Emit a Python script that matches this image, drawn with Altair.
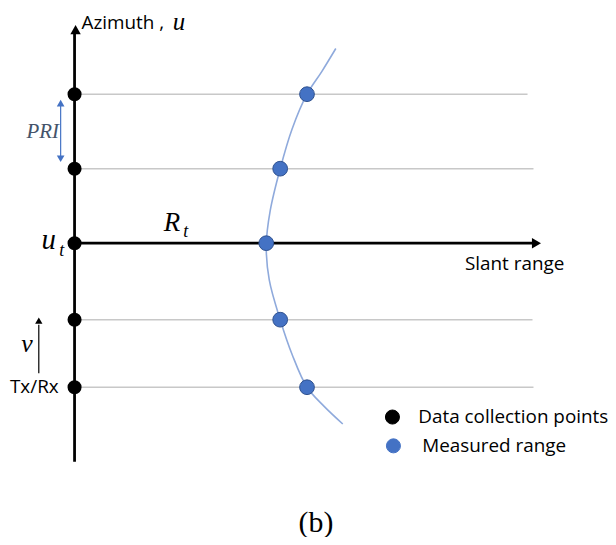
import altair as alt
import pandas as pd

# ---- values (image pixel space: x to the right, y downward) ----
pulse_y = [93, 168, 243, 320, 388]            # azimuth positions of the data collection points
platform_x = [75, 75, 75, 75, 75]              # Tx/Rx track (azimuth axis)
measured_x = [309, 282, 268, 282, 309]         # measured slant range of the target at each pulse
gridline_end_x = [531, 537, 540, 536, 537]     # right end of each range line

curve_x = [338, 324, 309, 294, 282, 272, 268, 271, 282, 294, 309, 326, 345]
curve_y = [47, 70, 93, 128, 168, 210, 245, 280, 320, 355, 388, 407, 425]

legend_labels = ["Data collection points", "Measured range"]
legend_colors = ["#000000", "#4472C4"]
legend_y = [418, 447]

xs = alt.Scale(domain=[8, 612], nice=False, zero=False)
ys = alt.Scale(domain=[537, 8], nice=False, zero=False)


def X(f="x"):
    return alt.X(f"{f}:Q", scale=xs, axis=None)


def Y(f="y"):
    return alt.Y(f"{f}:Q", scale=ys, axis=None)


# range lines (gray) for each pulse except the u_t line
grid = pd.DataFrame({"x": platform_x, "x2": gridline_end_x, "y": pulse_y})
grid_lines = alt.Chart(grid[grid["y"] != 243]).mark_rule(color="#C8C8C8", strokeWidth=1.6).encode(
    x=X(), x2="x2:Q", y=Y()
)

# main axes
axes = pd.DataFrame({
    "x": [75, 75], "x2": [75, 538], "y": [463, 243], "y2": [32, 243]
})
axis_lines = alt.Chart(axes).mark_rule(color="#000000", strokeWidth=2.8).encode(
    x=X(), x2="x2:Q", y=Y(), y2="y2:Q"
)

heads = pd.DataFrame({"x": [76, 540], "y": [28, 243], "shape": ["triangle-up", "triangle-right"]})
arrow_heads = alt.Chart(heads).mark_point(filled=True, color="#000000", size=110, opacity=1).encode(
    x=X(), y=Y(), shape=alt.Shape("shape:N", scale=None)
)

# hyperbolic range curve
curve = pd.DataFrame({"x": curve_x, "y": curve_y, "i": list(range(len(curve_x)))})
curve_line = alt.Chart(curve).mark_line(color="#8FAADC", strokeWidth=1.6, interpolate="catmull-rom").encode(
    x=X(), y=Y(), order="i:Q"
)

# data collection points
pts = pd.DataFrame({"x": platform_x, "y": pulse_y})
black_pts = alt.Chart(pts).mark_point(filled=True, color="#000000", size=200, opacity=1).encode(
    x=X(), y=Y()
)

meas = pd.DataFrame({"x": measured_x, "y": pulse_y})
blue_pts = alt.Chart(meas).mark_point(
    filled=True, fill="#4472C4", stroke="#2F528F", strokeWidth=1, size=220, opacity=1
).encode(x=X(), y=Y())

# PRI double arrow
pri = pd.DataFrame({"x": [61], "y": [104], "y2": [156]})
pri_line = alt.Chart(pri).mark_rule(color="#4472C4", strokeWidth=1.2).encode(x=X(), y=Y(), y2="y2:Q")
pri_heads_df = pd.DataFrame({"x": [61, 61], "y": [102, 158], "shape": ["triangle-up", "triangle-down"]})
pri_heads = alt.Chart(pri_heads_df).mark_point(filled=True, color="#4472C4", size=60, opacity=1).encode(
    x=X(), y=Y(), shape=alt.Shape("shape:N", scale=None)
)

# velocity arrow
vel = pd.DataFrame({"x": [39], "y": [374], "y2": [325]})
vel_line = alt.Chart(vel).mark_rule(color="#000000", strokeWidth=1.2).encode(x=X(), y=Y(), y2="y2:Q")
vel_head_df = pd.DataFrame({"x": [39], "y": [321], "shape": ["triangle-up"]})
vel_head = alt.Chart(vel_head_df).mark_point(filled=True, color="#000000", size=55, opacity=1).encode(
    x=X(), y=Y(), shape=alt.Shape("shape:N", scale=None)
)

# legend symbols
leg = pd.DataFrame({"x": [395, 396], "y": legend_y, "c": legend_colors, "label": legend_labels,
                    "tx": [421, 425]})
leg_pts = alt.Chart(leg).mark_point(filled=True, size=200, opacity=1, strokeWidth=1).encode(
    x=X(), y=Y(), fill=alt.Fill("c:N", scale=None), stroke=alt.Stroke("c:N", scale=None)
)
leg_txt = alt.Chart(leg).mark_text(align="left", baseline="middle", font="Open Sans", fontSize=19,
                                   color="#000000").encode(x=X("tx"), y=Y(), text="label:N")

# sans-serif labels
sans = pd.DataFrame({
    "x": [82, 518, 59],
    "y": [21, 264, 388],
    "t": ["Azimuth ,", "Slant range", "Tx/Rx"],
    "a": ["left", "center", "right"],
})
sans_layers = [
    alt.Chart(sans.iloc[[i]]).mark_text(align=sans["a"][i], baseline="middle", font="Open Sans",
                                        fontSize=19, color="#000000").encode(x=X(), y=Y(), text="t:N")
    for i in range(len(sans))
]

# math italic labels
math = pd.DataFrame({
    "x": [180, 49, 173, 27, 43],
    "y": [20, 240, 223, 345, 131],
    "t": ["u", "u", "R", "v", "PRI"],
    "s": [25, 29, 27, 26, 21],
    "c": ["#000000", "#000000", "#000000", "#000000", "#44546A"],
})
math_layers = [
    alt.Chart(math.iloc[[i]]).mark_text(align="center", baseline="middle", font="Liberation Serif",
                                        fontStyle="italic", fontSize=int(math["s"][i]),
                                        color=math["c"][i]).encode(x=X(), y=Y(), text="t:N")
    for i in range(len(math))
]

subs = pd.DataFrame({"x": [62, 187], "y": [251, 232], "t": ["t", "t"]})
sub_txt = alt.Chart(subs).mark_text(align="center", baseline="middle", font="Liberation Serif",
                                    fontStyle="italic", fontSize=18, color="#000000").encode(
    x=X(), y=Y(), text="t:N")

cap = pd.DataFrame({"x": [318], "y": [525], "t": ["(b)"]})
cap_txt = alt.Chart(cap).mark_text(align="center", baseline="middle", font="Liberation Serif",
                                   fontSize=30, color="#000000").encode(x=X(), y=Y(), text="t:N")

chart = alt.layer(
    grid_lines, curve_line, axis_lines, arrow_heads, black_pts, blue_pts,
    pri_line, pri_heads, vel_line, vel_head, leg_pts, leg_txt,
    *sans_layers, *math_layers, sub_txt, cap_txt,
).properties(
    width=604, height=529, padding=0, autosize="none", background="#FFFFFF"
).configure_view(stroke=None)

chart.save("out.html", embed_options={"renderer": "svg", "actions": False})
